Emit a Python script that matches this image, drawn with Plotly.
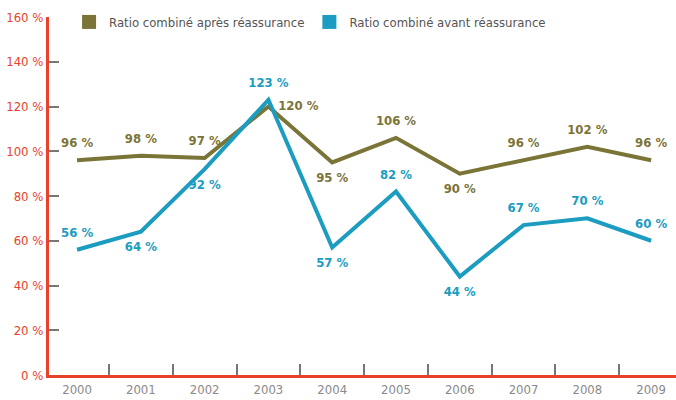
import plotly.graph_objects as go

years = ["2000", "2001", "2002", "2003", "2004", "2005", "2006", "2007", "2008", "2009"]
apres = [96, 98, 97, 120, 95, 106, 90, 96, 102, 96]
avant = [56, 64, 92, 123, 57, 82, 44, 67, 70, 60]
y_ticks = [0, 20, 40, 60, 80, 100, 120, 140, 160]

apres_pos = ["top center", "top center", "top center", "middle right", "bottom center",
             "top center", "bottom center", "top center", "top center", "top center"]
avant_pos = ["top center", "bottom center", "bottom center", "top center", "bottom center",
             "top center", "bottom center", "top center", "top center", "top center"]

OLIVE = "#7b7437"
TEAL = "#1b9cc0"
RED = "#e8432a"
FONT = "DejaVu Sans Condensed, Roboto, sans-serif"

fig = go.Figure()

fig.add_trace(go.Scatter(
    x=years, y=apres, mode="lines+markers+text",
    line=dict(color=OLIVE, width=4),
    marker=dict(size=14, opacity=0),
    text=[f"{v} %" for v in apres], textposition=apres_pos,
    textfont=dict(color=OLIVE, size=13, family=FONT, weight="bold"),
    showlegend=False, cliponaxis=False,
))
fig.add_trace(go.Scatter(
    x=years, y=avant, mode="lines+markers+text",
    line=dict(color=TEAL, width=4),
    marker=dict(size=14, opacity=0),
    text=[f"{v} %" for v in avant], textposition=avant_pos,
    textfont=dict(color=TEAL, size=13, family=FONT, weight="bold"),
    showlegend=False, cliponaxis=False,
))

# square legend entries
for name, col in [("Ratio combiné après réassurance", OLIVE),
                  ("Ratio combiné avant réassurance", TEAL)]:
    fig.add_trace(go.Scatter(
        x=[None], y=[None], mode="markers", name=name,
        marker=dict(symbol="square", size=14, color=col),
    ))

fig.update_layout(
    width=676, height=400,
    margin=dict(l=49, r=0, t=17, b=25),
    plot_bgcolor="white", paper_bgcolor="white",
    font=dict(family=FONT, size=13, color="#555555"),
    legend=dict(orientation="h", x=0.032, y=1.028, xanchor="left", yanchor="top",
                font=dict(size=13, color="#555555"), itemwidth=30,
                bgcolor="rgba(0,0,0,0)"),
    xaxis=dict(
        type="category", range=[-0.44, 9.39], automargin=False,
        showline=True, linecolor=RED, linewidth=3,
        ticks="inside", tickson="boundaries", ticklen=11, tickcolor="#777777", tickwidth=1.5,
        tickfont=dict(color="#8a8a8a", size=13),
        showgrid=False, zeroline=False,
    ),
    yaxis=dict(
        range=[0, 160], tickvals=y_ticks, ticktext=[f"{v} %" for v in y_ticks],
        automargin=False,
        showline=True, linecolor=RED, linewidth=3,
        ticks="inside", ticklen=10, tickcolor="#777777", tickwidth=1.5,
        tickfont=dict(color=RED, size=13),
        showgrid=False, zeroline=False,
    ),
)

# page has a default body margin; remove it so the figure sits at the window corner
fig.write_html("out.html", config={"displayModeBar": False},
               post_script="document.body.style.margin='0';")
